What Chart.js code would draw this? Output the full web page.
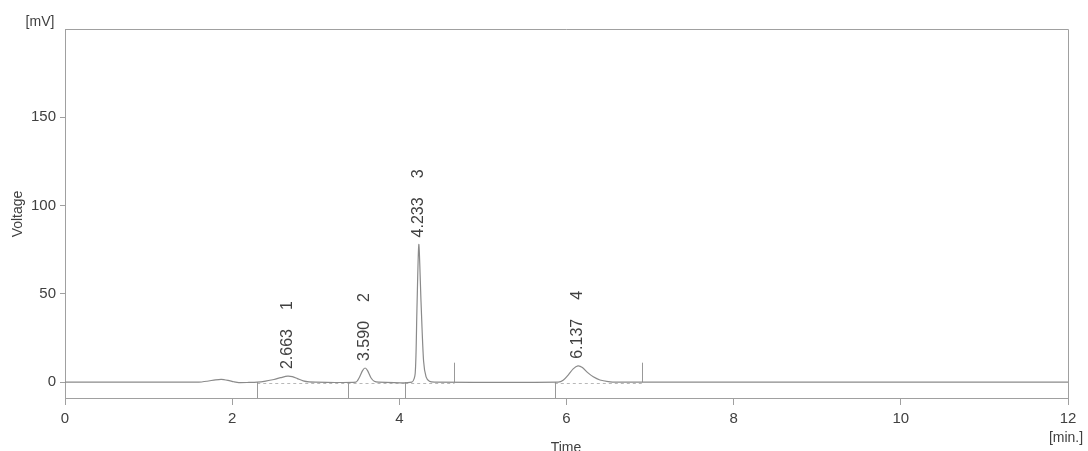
<!DOCTYPE html>
<html>
<head>
<meta charset="utf-8">
<script src="https://cdn.jsdelivr.net/npm/chart.js@4/dist/chart.umd.min.js"></script>
<style>
  html, body { margin: 0; padding: 0; background: #fff; }
  #wrap { width: 1088px; height: 451px; position: relative; }
</style>
</head>
<body>
<div id="wrap"><canvas id="c"></canvas></div>
<script>
// ---- data ----
const signalTimes = [0, 1.60, 1.70, 1.80, 1.87, 1.95, 2.02, 2.08, 2.20, 2.30, 2.40, 2.50, 2.58, 2.663, 2.72, 2.78, 2.85, 2.92, 3.00,
  3.48, 3.52, 3.56, 3.59, 3.62, 3.66, 3.70, 3.75,
  4.15, 4.19, 4.21, 4.233, 4.26, 4.29, 4.32, 4.36, 4.42,
  5.90, 5.96, 6.02, 6.08, 6.137, 6.19, 6.25, 6.32, 6.40, 6.50, 6.60, 12];
const signalVolts = [0, 0, 0.5, 1.3, 1.6, 1.0, 0.2, -0.3, -0.2, 0, 0.6, 1.5, 2.5, 3.4, 3.1, 2.0, 0.7, 0.1, 0,
  0, 2.5, 6.5, 8.0, 6.5, 2.5, 0.5, 0,
  0, 5, 40, 78, 45, 12, 3, 0.5, 0,
  0, 1, 4, 7.5, 9.2, 8.3, 5.5, 3, 1.2, 0.3, 0, 0];

const peakTimes = [2.663, 3.590, 4.233, 6.137];
const peakHeights = [3.4, 8.0, 78, 9.2];
const peakNumbers = ["1", "2", "3", "4"];

const markerTimes = [2.30, 3.38, 4.07, 4.66, 5.86, 6.90];
const markerEnds = [-9, -9, -9, 11, -9, 11];

const baselineStarts = [2.30, 3.38, 4.07, 5.86];
const baselineEnds = [3.38, 4.07, 4.66, 6.90];

const xTicks = [0, 2, 4, 6, 8, 10, 12];
const yTicks = [0, 50, 100, 150];

const xMin = 0, xMax = 12, yMin = -9, yMax = 200;

// ---- chart ----
const FONT = "'Liberation Sans', Arial, sans-serif";
const TXT = '#404040';
const AXIS = '#a0a0a0';

const decor = {
  id: 'decor',
  beforeDatasetsDraw(chart) {
    const { ctx, chartArea: a, scales: { x, y } } = chart;
    ctx.save();
    ctx.strokeStyle = AXIS;
    ctx.lineWidth = 1;
    ctx.beginPath();
    ctx.moveTo(a.left, a.top + 0.5);
    ctx.lineTo(a.right + 0.5, a.top + 0.5);
    ctx.lineTo(a.right + 0.5, a.bottom);
    ctx.stroke();
    ctx.strokeStyle = '#b8b8b8';
    ctx.setLineDash([3, 3]);
    for (let i = 0; i < baselineStarts.length; i++) {
      const py = Math.round(y.getPixelForValue(0)) + 1.5;
      ctx.beginPath();
      ctx.moveTo(x.getPixelForValue(baselineStarts[i]), py);
      ctx.lineTo(x.getPixelForValue(baselineEnds[i]), py);
      ctx.stroke();
    }
    ctx.setLineDash([]);
    ctx.strokeStyle = '#999999';
    for (let i = 0; i < markerTimes.length; i++) {
      const px = Math.round(x.getPixelForValue(markerTimes[i])) + 0.5;
      ctx.beginPath();
      ctx.moveTo(px, y.getPixelForValue(0));
      ctx.lineTo(px, y.getPixelForValue(markerEnds[i]));
      ctx.stroke();
    }
    ctx.restore();
  },
  afterDraw(chart) {
    const { ctx, scales: { x, y } } = chart;
    ctx.save();
    ctx.fillStyle = TXT;
    ctx.font = '16px ' + FONT;
    for (let i = 0; i < peakTimes.length; i++) {
      const px = x.getPixelForValue(peakTimes[i]);
      const py = y.getPixelForValue(peakHeights[i]) - 7;
      ctx.save();
      ctx.translate(px, py);
      ctx.rotate(-Math.PI / 2);
      ctx.textAlign = 'left';
      ctx.textBaseline = 'middle';
      const t = peakTimes[i].toFixed(3);
      ctx.fillText(t, 0, 0);
      const w = ctx.measureText(t).width;
      ctx.fillText(peakNumbers[i], w + 19, 0);
      ctx.restore();
    }
    ctx.font = '14px ' + FONT;
    ctx.textAlign = 'center';
    ctx.textBaseline = 'middle';
    ctx.fillText('[mV]', 40, 22);
    ctx.fillText('[min.]', 1066, 438);
    ctx.textBaseline = 'top';
    ctx.fillText('Time', 566, 441);
    ctx.save();
    ctx.translate(18, 214);
    ctx.rotate(-Math.PI / 2);
    ctx.textBaseline = 'middle';
    ctx.fillText('Voltage', 0, 0);
    ctx.restore();
    ctx.restore();
  }
};

new Chart(document.getElementById('c'), {
  type: 'line',
  data: {
    datasets: [{
      data: signalTimes.map((t, i) => ({ x: t, y: signalVolts[i] })),
      borderColor: '#8a8a8a',
      borderWidth: 1.2,
      pointRadius: 0,
      tension: 0.25,
      fill: false
    }]
  },
  options: {
    responsive: true,
    maintainAspectRatio: false,
    animation: false,
    layout: { padding: { left: 0, top: 29, right: 20, bottom: 0 } },
    plugins: { legend: { display: false }, tooltip: { enabled: false } },
    scales: {
      x: {
        type: 'linear', min: xMin, max: xMax,
        afterFit: s => { s.height = 53; },
        afterBuildTicks: s => { s.ticks = xTicks.map(v => ({ value: v })); },
        ticks: { color: TXT, font: { family: FONT, size: 15 }, padding: 5, maxRotation: 0, autoSkip: false },
        grid: { display: true, drawOnChartArea: false, drawTicks: true, tickLength: 7, color: AXIS },
        border: { display: true, color: AXIS, width: 1 }
      },
      y: {
        type: 'linear', min: yMin, max: yMax,
        afterFit: s => { s.width = 65; },
        afterBuildTicks: s => { s.ticks = yTicks.map(v => ({ value: v })); },
        ticks: { color: TXT, font: { family: FONT, size: 15 }, padding: 4, autoSkip: false },
        grid: { display: true, drawOnChartArea: false, drawTicks: true, tickLength: 5, color: AXIS },
        border: { display: true, color: AXIS, width: 1 }
      }
    }
  },
  plugins: [decor]
});
</script>
</body>
</html>
